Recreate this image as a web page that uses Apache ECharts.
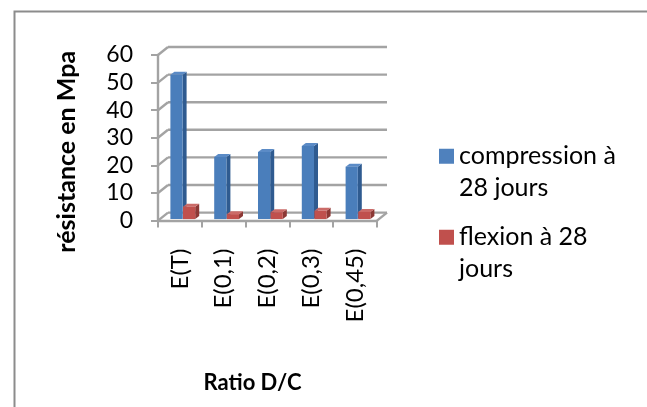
<!DOCTYPE html>
<html><head><meta charset="utf-8">
<style>html,body{margin:0;padding:0;background:#fff}#c{width:647px;height:407px}</style>
<script src="https://cdn.jsdelivr.net/npm/echarts@6/dist/echarts.min.js"></script>
</head><body><div id="c"></div>
<script>
var categories = ['E(T)', 'E(0,1)', 'E(0,2)', 'E(0,3)', 'E(0,45)'];
var compression = [52.3, 22.5, 24.3, 26.5, 19];
var flexion = [4.5, 1.8, 2.5, 3, 2.6];
var yTicks = [0, 10, 20, 30, 40, 50, 60];
var seriesNames = ['compression à 28 jours', 'flexion à 28 jours'];
var legendText = {'compression à 28 jours': ' \ncompression à\n28 jours', 'flexion à 28 jours': ' \nflexion à 28\njours'};

var GRAY = '#a3a3a3', FONT = 'Lato, sans-serif';
var DX = 10, DY = 8;          // wall depth
var chart = echarts.init(document.getElementById('c'), null, {renderer: 'canvas'});

function wallItem(params, api) {
  var p = api.coord([0, api.value(0)]);
  var bandW = api.size([1, 0])[0];
  var x0 = p[0] - bandW / 2, y = p[1];
  var xEnd = x0 + bandW * categories.length;
  var style = {stroke: GRAY, lineWidth: 2.4, fill: null};
  var children = [
    {type: 'line', shape: {x1: x0, y1: y, x2: x0 + DX, y2: y - DY}, style: style},
    {type: 'line', shape: {x1: x0 + DX, y1: y - DY, x2: xEnd + DX, y2: y - DY}, style: style}
  ];
  if (api.value(0) === 0) {
    children.push({type: 'line', shape: {x1: xEnd, y1: y, x2: xEnd + DX, y2: y - DY}, style: style});
  }
  return {type: 'group', children: children};
}

function barItem(offset, front, side, top) {
  return function (params, api) {
    var cat = api.value(0);
    var p = api.coord([cat, api.value(1)]);
    var b = api.coord([cat, 0]);
    var bandW = api.size([1, 0])[0];
    var x = b[0] - bandW / 2 + offset, w = 12.2, d = 4, h = 3, base = b[1] - 1.5;
    var yTop = p[1] - 1.5;
    return {type: 'group', children: [
      {type: 'polygon', shape: {points: [[x + w, base], [x + w + d, base - h], [x + w + d, yTop - h], [x + w, yTop]]}, style: {fill: side}},
      {type: 'polygon', shape: {points: [[x, yTop], [x + d, yTop - h], [x + w + d, yTop - h], [x + w, yTop]]}, style: {fill: top}},
      {type: 'rect', shape: {x: x, y: yTop, width: w, height: base - yTop}, style: {fill: front}}
    ]};
  };
}

function legendOf(name, top) {
  return {
    orient: 'vertical', left: 434, top: top, itemWidth: 15, itemHeight: 15,
    icon: 'rect', data: [name], selectedMode: false,
    formatter: function (n) { return legendText[n]; },
    textStyle: {fontFamily: FONT, fontSize: 25, color: '#000', lineHeight: 31.5}
  };
}

chart.setOption({
  animation: false,
  backgroundColor: '#fff',
  textStyle: {fontFamily: FONT},
  graphic: [{
    type: 'rect', silent: true, z: -1,
    shape: {x: 14.5, y: 11.5, width: 640, height: 400},
    style: {fill: null, stroke: '#8c8c8c', lineWidth: 2}
  }],
  grid: {left: 158, right: 270, top: 55, bottom: 186.4},
  legend: [legendOf(seriesNames[0], 104), legendOf(seriesNames[1], 185)],
  xAxis: {
    type: 'category', data: categories, name: 'Ratio D/C', nameLocation: 'middle', nameGap: 151,
    nameMoveOverlap: false,
    nameTextStyle: {fontFamily: FONT, fontSize: 22, fontWeight: 'bold', color: '#000', padding: [0, 30, 0, 0]},
    axisLine: {lineStyle: {color: GRAY, width: 2.4}},
    axisTick: {show: true, alignWithLabel: false, length: 7, lineStyle: {color: GRAY, width: 2}},
    axisLabel: {rotate: 90, fontSize: 24, color: '#000', margin: 28, interval: 0, fontFamily: FONT, padding: [4, 0, 0, 0]},
    splitLine: {show: false}
  },
  yAxis: {
    type: 'value', min: 0, max: 60, interval: 10, name: 'résistance en Mpa', nameLocation: 'middle', nameGap: 79,
    nameMoveOverlap: false,
    nameTextStyle: {fontFamily: FONT, fontSize: 25, fontWeight: 'bold', color: '#000', padding: [0, 28, 0, 0]},
    axisLine: {show: true, lineStyle: {color: GRAY, width: 2.4}},
    axisTick: {show: true, length: 7, lineStyle: {color: GRAY, width: 2}},
    axisLabel: {fontSize: 23, color: '#000', margin: 25, fontFamily: FONT, padding: [5, 0, 0, 0]},
    splitLine: {show: false}
  },
  series: [
    {type: 'custom', name: 'walls', silent: true, z: 1, renderItem: wallItem, data: yTicks.map(function (t) { return [t]; }), encode: {y: 0}},
    {type: 'custom', name: seriesNames[0], z: 3, itemStyle: {color: '#4f81bd'},
     renderItem: barItem(12.4, '#4a7ebb', '#2f5b90', '#5b8bc6'),
     data: compression.map(function (v, i) { return [i, v]; }), encode: {x: 0, y: 1}},
    {type: 'custom', name: seriesNames[1], z: 4, itemStyle: {color: '#c0504d'},
     renderItem: barItem(25, '#c0504d', '#8c3835', '#cb6b68'),
     data: flexion.map(function (v, i) { return [i, v]; }), encode: {x: 0, y: 1}}
  ]
});
</script></body></html>
